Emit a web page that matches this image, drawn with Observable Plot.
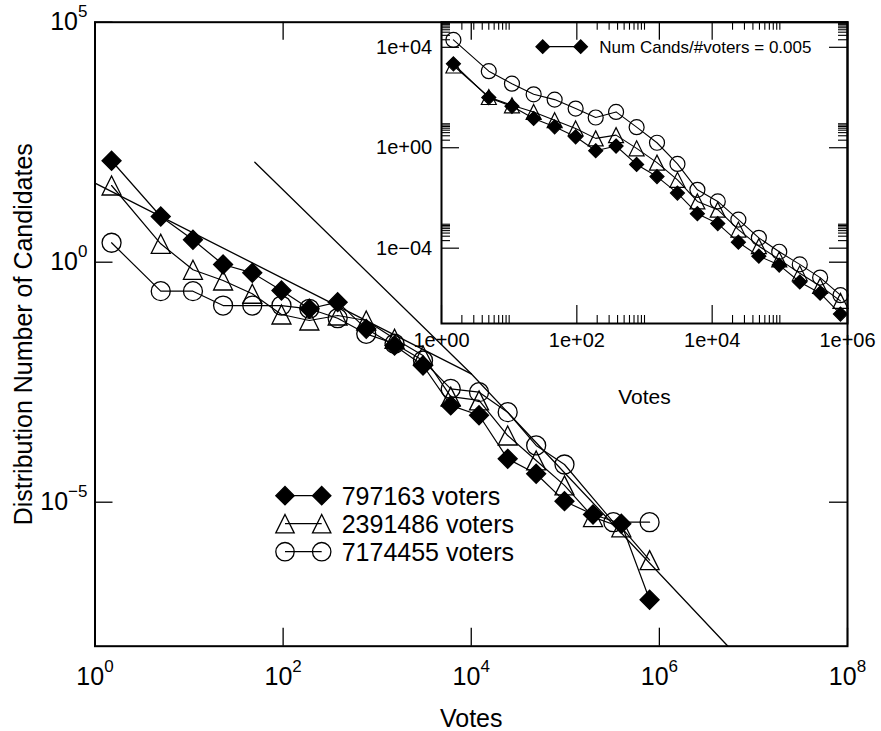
<!DOCTYPE html>
<html><head><meta charset="utf-8">
<script src="https://cdn.jsdelivr.net/npm/d3@7"></script>
<script src="https://cdn.jsdelivr.net/npm/@observablehq/plot@0.6"></script>
<style>
body{margin:0;background:#fff;}
#wrap{position:relative;width:881px;height:731px;background:#fff;}
#wrap svg{position:absolute;left:0;top:0;overflow:visible;}
</style></head><body><div id="wrap"></div>
<script>
// ---------------- data ----------------
const voteBins = [1.5, 5, 11, 23, 47, 96, 190, 380, 765, 1530, 3070, 6050, 12100, 24400, 49000, 98000, 197000, 394000, 787000];
const circleBins = [1.5, 5, 11, 23, 47, 96, 190, 380, 765, 1530, 3070, 6050, 12100, 24400, 49000, 98000, 324000, 787000];

const mainDiamonds  = [130, 8.95, 2.93, 0.895, 0.601, 0.257, 0.107, 0.147, 0.0409, 0.0184, 0.00705, 0.00104, 0.000649, 8.02e-5, 3.91e-5, 1.05e-5, 5.55e-6, 3.55e-6, 9.27e-8];
const mainTriangles = [39.6, 2.42, 0.695, 0.416, 0.220, 0.0813, 0.0610, 0.0776, 0.0610, 0.0254, 0.0114, 0.00158, 0.00132, 0.000245, 7.41e-5, 2.24e-5, 4.9e-6, 3.0e-6, 6.2e-7];
const mainCircles   = [2.54, 0.249, 0.249, 0.125, 0.125, 0.125, 0.107, 0.0681, 0.0322, 0.0200, 0.00895, 0.00230, 0.00196, 0.000750, 0.000152, 6.10e-5, 3.83e-6, 3.83e-6];

const insetDiamonds  = [2200, 99.1, 44.8, 14.6, 6.79, 2.73, 0.760, 1.17, 0.216, 0.0710, 0.0156, 0.00237, 0.000951, 0.000173, 4.82e-5, 2.12e-5, 4.50e-6, 1.61e-6, 2.37e-7];
const insetTriangles = [1884, 104.7, 49.1, 26.7, 12.5, 5.86, 2.36, 3.18, 0.946, 0.255, 0.0526, 0.00726, 0.00341, 0.000551, 0.000120, 3.57e-5, 9.95e-6, 3.13e-6, 7.96e-7];
const insetCircles   = [19630, 1122, 356, 134, 82.6, 36.3, 16.0, 26.7, 6.61, 1.58, 0.226, 0.0211, 0.00726, 0.00137, 0.000258, 7.19e-5, 2.26e-5, 6.73e-6, 1.34e-6];

const fitAX = [1, 1e4],     fitAY = [44.3, 0.00473];
const fitBX = [50, 1e4],    fitBY = [121, 0.00473];
const fitCX = [1e4, 5.36e6], fitCY = [0.00473, 1e-8];

const legendLabels = ["797163 voters", "2391486 voters", "7174455 voters"];
const insetLegendLabel = "Num Cands/#voters = 0.005";

const mainXTicks = [1, 1e2, 1e4, 1e6, 1e8];
const mainXTickExp = ["0", "2", "4", "6", "8"];
const mainYTicks = [1e5, 1, 1e-5];
const mainYTickExp = ["5", "0", "\u22125"];

const insetXTicks = [1, 1e2, 1e4, 1e6];
const insetXTickLabels = ["1e+00", "1e+02", "1e+04", "1e+06"];
const insetYTicks = [1e4, 1, 1e-4];
const insetYTickLabels = ["1e+04", "1e+00", "1e\u221204"];

const xTitle = "Votes";
const yTitle = "Distribution Number of Candidates";

// ---------------- layout ----------------
const W = 881, H = 731;
const FONT = "'Liberation Sans', Arial, Helvetica, sans-serif";
const M = {left: 94.5, top: 21.7, right: W - 847, bottom: H - 645.7};
const fw = W - M.left - M.right, fh = H - M.top - M.bottom;
const I = {left: 441, top: 21.7, right: W - 847, bottom: H - 323};
const ifw = W - I.left - I.right, ifh = H - I.top - I.bottom;

const sym = {
  diamond: {draw(c, s) { const h = Math.sqrt(s / Math.PI); c.moveTo(0, -h); c.lineTo(h, 0); c.lineTo(0, h); c.lineTo(-h, 0); c.closePath(); }},
  triangle: {draw(c, s) { const h = Math.sqrt(s / Math.PI); c.moveTo(0, -h); c.lineTo(h, h); c.lineTo(-h, h); c.closePath(); }},
  circle: {draw(c, s) { const h = Math.sqrt(s / Math.PI); c.moveTo(h, 0); c.arc(0, 0, h, 0, 2 * Math.PI); c.closePath(); }}
};

const rows = (xs, ys) => xs.map((x, i) => ({x, y: ys[i]}));

const diamonds  = {label: legendLabels[0], mx: voteBins, my: mainDiamonds, iy: insetDiamonds, symbol: sym.diamond, fill: "black"};
const triangles = {label: legendLabels[1], mx: voteBins, my: mainTriangles, iy: insetTriangles, symbol: sym.triangle, fill: "none"};
const circles   = {label: legendLabels[2], mx: circleBins, my: mainCircles, iy: insetCircles, symbol: sym.circle, fill: "none"};
const drawOrder = [circles, triangles, diamonds];

// ---------------- main plot ----------------
const T = 18;
const mainMarks = [
  Plot.ruleX(mainXTicks, {x: d => d, insetTop: fh - T, stroke: "black", strokeWidth: 1.3}),
  Plot.ruleX(mainXTicks, {x: d => d, insetBottom: fh - T, stroke: "black", strokeWidth: 1.3}),
  Plot.ruleY(mainYTicks, {y: d => d, insetRight: fw - T, stroke: "black", strokeWidth: 1.3}),
  Plot.ruleY(mainYTicks, {y: d => d, insetLeft: fw - T, stroke: "black", strokeWidth: 1.3}),
  Plot.line(rows(fitAX, fitAY), {x: "x", y: "y", stroke: "black", strokeWidth: 1.3}),
  Plot.line(rows(fitBX, fitBY), {x: "x", y: "y", stroke: "black", strokeWidth: 1.3}),
  Plot.line(rows(fitCX, fitCY), {x: "x", y: "y", stroke: "black", strokeWidth: 1.3}),
  ...drawOrder.map(s => Plot.line(rows(s.mx, s.my), {x: "x", y: "y", stroke: "black", strokeWidth: 1.2})),
  ...drawOrder.map(s => Plot.dot(rows(s.mx, s.my), {x: "x", y: "y", symbol: s.symbol, r: 9.5, fill: s.fill, stroke: "black", strokeWidth: 1.3})),
  Plot.text(mainXTicks, {x: d => d, frameAnchor: "bottom", lineAnchor: "bottom", textAnchor: "middle", dy: 38.3, text: (d, i) => "10^" + mainXTickExp[i], fontSize: 25, fill: "black"}),
  Plot.text(mainYTicks, {y: d => d, frameAnchor: "left", textAnchor: "end", dx: -7.5, text: (d, i) => "10^" + mainYTickExp[i], fontSize: 25, fill: "black"}),
  Plot.text([xTitle], {frameAnchor: "bottom", lineAnchor: "bottom", textAnchor: "middle", dy: 81, text: d => d, fontSize: 25, fill: "black"}),
  Plot.text([yTitle], {frameAnchor: "left", textAnchor: "middle", rotate: -90, dx: -70.8, text: d => d, fontSize: 25, fill: "black"}),
  Plot.frame({stroke: "black", strokeWidth: 2})
];

const mainPlot = Plot.plot({
  width: W, height: H,
  marginLeft: M.left, marginTop: M.top, marginRight: M.right, marginBottom: M.bottom,
  x: {type: "log", domain: [1, 1e8], axis: null},
  y: {type: "log", domain: [1e-8, 1e5], axis: null},
  style: {fontFamily: FONT, background: "white", overflow: "visible", color: "black"},
  marks: mainMarks
});

// ---------------- inset plot ----------------
const minorX = [], minorY = [];
for (const b of [1, 1e2, 1e4]) for (let k = 2; k <= 10; k++) minorX.push(b * k);
for (const b of [1e4, 1, 1e-4]) for (let k = 2; k <= 9; k++) minorY.push(b * k);
const IT = 18, it = 8;

const insetMarks = [
  Plot.ruleX(insetXTicks, {x: d => d, insetTop: ifh - IT, stroke: "black", strokeWidth: 1.2}),
  Plot.ruleX(insetXTicks, {x: d => d, insetBottom: ifh - IT, stroke: "black", strokeWidth: 1.2}),
  Plot.ruleX(minorX, {x: d => d, insetTop: ifh - it, stroke: "black", strokeWidth: 1.1}),
  Plot.ruleX(minorX, {x: d => d, insetBottom: ifh - it, stroke: "black", strokeWidth: 1.1}),
  Plot.ruleY(insetYTicks, {y: d => d, insetRight: ifw - IT, stroke: "black", strokeWidth: 1.2}),
  Plot.ruleY(insetYTicks, {y: d => d, insetLeft: ifw - IT, stroke: "black", strokeWidth: 1.2}),
  Plot.ruleY(minorY, {y: d => d, insetRight: ifw - 9, stroke: "black", strokeWidth: 1.1}),
  Plot.ruleY(minorY, {y: d => d, insetLeft: ifw - 9, stroke: "black", strokeWidth: 1.1}),
  ...drawOrder.map(s => Plot.line(rows(voteBins, s.iy), {x: "x", y: "y", stroke: "black", strokeWidth: 1.1})),
  ...drawOrder.map(s => Plot.dot(rows(voteBins, s.iy), {x: "x", y: "y", symbol: s.symbol, r: s.fill === "none" ? 7.5 : 7, fill: s.fill, stroke: "black", strokeWidth: 1.2})),
  Plot.text(insetXTicks, {x: d => d, frameAnchor: "bottom", lineAnchor: "bottom", textAnchor: "middle", dy: 23.7, text: (d, i) => insetXTickLabels[i], fontSize: 20, fill: "black"}),
  Plot.text(insetYTicks, {y: d => d, frameAnchor: "left", textAnchor: "end", dx: -9.3, text: (d, i) => insetYTickLabels[i], fontSize: 20, fill: "black"}),
  Plot.text([xTitle], {frameAnchor: "bottom", lineAnchor: "bottom", textAnchor: "middle", dy: 80.3, text: d => d, fontSize: 21, fill: "black"}),
  Plot.frame({stroke: "black", strokeWidth: 2})
];

const insetPlot = Plot.plot({
  width: W, height: H,
  marginLeft: I.left, marginTop: I.top, marginRight: I.right, marginBottom: I.bottom,
  x: {type: "log", domain: [1, 1e6], axis: null},
  y: {type: "log", domain: [1e-7, 1e5], axis: null},
  style: {fontFamily: FONT, background: "transparent", overflow: "visible", color: "black"},
  marks: insetMarks
});

const wrap = document.getElementById("wrap");
wrap.appendChild(mainPlot);
wrap.appendChild(insetPlot);

// superscripts for "10^n" labels
d3.select(mainPlot).selectAll("text").each(function () {
  const t = this.textContent;
  if (!t.includes("^")) return;
  const [b, e] = t.split("^");
  const sel = d3.select(this);
  sel.text(null);
  sel.append("tspan").text(b);
  sel.append("tspan").attr("dy", -13).attr("font-size", 17).text(e);
});

// ---------------- legends ----------------
function drawLegend(svg, items, x0, x1, xt, y0, step, r, fs, base) {
  const g = d3.select(svg).append("g").attr("font-family", FONT).attr("font-size", fs).attr("text-anchor", "start");
  items.forEach((it, i) => {
    const y = y0 + i * step;
    g.append("line").attr("x1", x0).attr("x2", x1).attr("y1", y).attr("y2", y).attr("stroke", "black").attr("stroke-width", 1.3);
    for (const x of [x0, x1]) {
      g.append("path").attr("d", d3.symbol(it.symbol, Math.PI * r * r)()).attr("transform", `translate(${x},${y})`)
        .attr("fill", it.fill).attr("stroke", "black").attr("stroke-width", 1.3);
    }
    g.append("text").attr("x", xt).attr("y", y + base).attr("fill", "black").attr("text-anchor", "start").text(it.label);
  });
}
drawLegend(mainPlot, [diamonds, triangles, circles], 285, 321.7, 341.7, 495.7, 28, 9.2, 25, 9.3);
drawLegend(insetPlot, [{label: insetLegendLabel, symbol: sym.diamond, fill: "black"}], 542.7, 580.7, 599.3, 46.7, 0, 6.7, 17, 6.3);
</script></body></html>
